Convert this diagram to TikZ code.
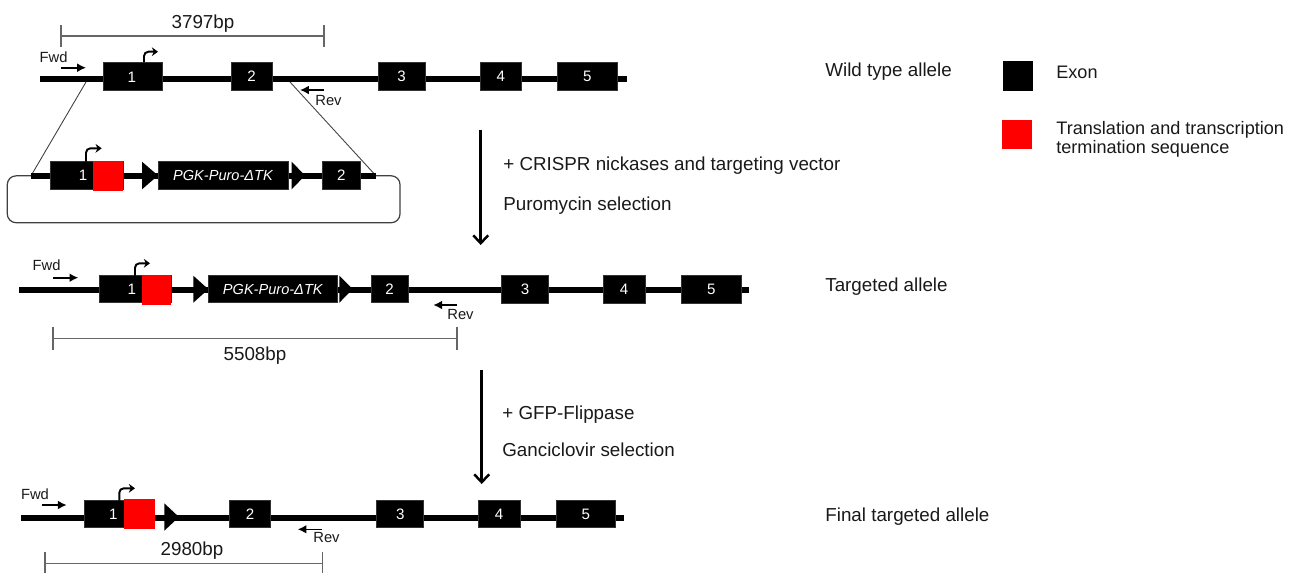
\documentclass[tikz,border=0pt]{standalone}
\usepackage{fontspec}
\setmainfont{Liberation Sans}
\usetikzlibrary{arrows.meta,fit}

\begin{document}
\begin{tikzpicture}[x=0.02cm,y=-0.02cm,
  big/.style={font=\fontsize{10.7}{12}\selectfont, text=black!90, inner sep=0},
  leg/.style={font=\fontsize{10.3}{10.3}\selectfont, text=black!90, inner sep=0, align=left},
  small/.style={font=\fontsize{8.4}{9}\selectfont, text=black!90, inner sep=0},
  exon/.style={fill=black, draw=black!80, line width=0.3pt, inner sep=0},
  exlabel/.style={text=white, font=\fontsize{8.6}{9}\selectfont, inner sep=0},
  cassette/.style={exlabel, font=\itshape\fontsize{8.3}{9}\selectfont},
  stopbox/.style={fill=red, draw=none, inner sep=0},
  backbone/.style={line width=3.4pt, black},
  primer/.style={line width=0.9pt, -{Latex[length=5pt,width=5pt]}},
  tss/.style={line width=1.1pt, rounded corners=2.5pt, -{Stealth[length=3.5pt,width=5pt]}},
  ruler/.style={draw=black!60, line width=0.6pt},
  process/.style={line width=1.4pt, -{Straight Barb[length=4.5pt,width=8.5pt]}},
  site/.style={fill=black, draw=none},
  frame/.style={draw=black!75, line width=0.7pt, rounded corners=5pt},
  homology/.style={draw=black!75, line width=0.5pt}
]
\useasboundingbox (0,0) rectangle (1297,583);

% ---------------- wild type allele ----------------
\coordinate (w0) at (40,78.7);
\coordinate (w1) at (627,78.7);
\draw[backbone] (w0) -- (w1);
\node[exon, fit={(103,62) (162,90)}] (we1) {};
\node[exon, fit={(231,62) (272,90)}] (we2) {};
\node[exon, fit={(378,62) (425,90)}] (we3) {};
\node[exon, fit={(480,62) (521.7,90)}] (we4) {};
\node[exon, fit={(557,62) (617.7,90)}] (we5) {};
\node[exlabel] at (131.7,77) {1};
\node[exlabel] at (we2.center) {2};
\node[exlabel] at (we3.center) {3};
\node[exlabel] at (we4.center) {4};
\node[exlabel] at (we5.center) {5};
\coordinate (wt) at (144,62);
\coordinate (wtt) at (158,51.7);
\draw[tss] (wt) |- (wtt);
\node[small, anchor=base west] (wfwd) at (39.3,62.3) {Fwd};
\coordinate (wf0) at (61,67.7);
\coordinate (wf1) at (86,67.7);
\draw[primer] (wf0) -- (wf1);
\coordinate (wr0) at (324,90);
\coordinate (wr1) at (300,90);
\draw[primer] (wr0) -- (wr1);
\node[small, anchor=base west] (wrev) at (315,105) {Rev};
% amplicon
\coordinate (wa0) at (61,36);
\coordinate (wa1) at (324,36);
\draw[ruler] (wa0) -- (wa1);
\draw[ruler] (61,25) -- (61,47) (324,25) -- (324,47);
\node[big, anchor=base] (wlen) at (203,28.3) {3797bp};
\node[big, anchor=base west] (wname) at (825,76) {Wild type allele};

% ---------------- targeting vector ----------------
\coordinate (v0) at (31,175.8);
\coordinate (v1) at (376,175.8);
\draw[frame] (7.3,175.8) rectangle (400,222.7);
\draw[homology] (86,82) -- (v0);
\draw[homology] (290,82) -- (v1);
\draw[backbone] (v0) -- (v1);
\node[exon, fit={(50.7,161.7) (123,189.3)}] (ve1) {};
\node[stopbox, fit={(92.7,161) (123,190.7)}] (vstop) {};
\node[exlabel] at (83,175.5) {1};
\coordinate (vt) at (86,161.7);
\coordinate (vtt) at (101.7,148.3);
\draw[tss] (vt) |- (vtt);
\fill[site] (142,161.7) -- (158,175.5) -- (142,189.3) -- cycle;
\node[exon, fit={(158,161.7) (288,189.3)}] (vpgk) {};
\node[cassette] at (vpgk.center) {PGK-Puro-ΔTK};
\fill[site] (291.7,161.7) -- (305,175.5) -- (291.7,189.3) -- cycle;
\node[exon, fit={(322,161.7) (360.7,189.3)}] (ve2) {};
\node[exlabel] at (ve2.center) {2};

% ---------------- step 1 ----------------
\coordinate (s1a) at (480.7,130);
\coordinate (s1b) at (480.7,245);
\draw[process] (s1a) -- (s1b);
\node[big, anchor=base west] (s1t1) at (503,170) {+ CRISPR nickases and targeting vector};
\node[big, anchor=base west] (s1t2) at (503,210) {Puromycin selection};

% ---------------- targeted allele ----------------
\coordinate (t0) at (19.3,290);
\coordinate (t1) at (749.3,290);
\draw[backbone] (t0) -- (t1);
\node[exon, fit={(99,275.7) (171,302.7)}] (te1) {};
\node[stopbox, fit={(141.7,275) (171,305)}] (tstop) {};
\node[exlabel] at (131.7,289.5) {1};
\coordinate (tt) at (135,275.7);
\coordinate (ttt) at (150,263.3);
\draw[tss] (tt) |- (ttt);
\fill[site] (193.3,275.7) -- (208.3,289.2) -- (193.3,302.7) -- cycle;
\node[exon, fit={(208.3,275.7) (337.3,302.7)}] (tpgk) {};
\node[cassette] at (tpgk.center) {PGK-Puro-ΔTK};
\fill[site] (339.3,275.7) -- (352.7,289.2) -- (339.3,302.7) -- cycle;
\node[exon, fit={(371,275.7) (408.3,302.7)}] (te2) {};
\node[exon, fit={(501.7,275.7) (548.3,303.3)}] (te3) {};
\node[exon, fit={(603.3,275.7) (645,303.3)}] (te4) {};
\node[exon, fit={(681.7,275.7) (741,303.3)}] (te5) {};
\node[exlabel] at (te2.center) {2};
\node[exlabel] at (te3.center) {3};
\node[exlabel] at (te4.center) {4};
\node[exlabel] at (te5.center) {5};
\node[small, anchor=base west] (tfwd) at (32.3,270) {Fwd};
\coordinate (tf0) at (53.3,277.7);
\coordinate (tf1) at (78.3,277.7);
\draw[primer] (tf0) -- (tf1);
\coordinate (tr0) at (456.7,305);
\coordinate (tr1) at (433.3,305);
\draw[primer] (tr0) -- (tr1);
\node[small, anchor=base west] (trev) at (447,319.3) {Rev};
\coordinate (ta0) at (53,338.3);
\coordinate (ta1) at (457,338.3);
\draw[ruler] (ta0) -- (ta1);
\draw[ruler] (53,326.7) -- (53,350) (457,326.7) -- (457,350);
\node[big, anchor=base] (tlen) at (255,360) {5508bp};
\node[big, anchor=base west] (tname) at (825,291.7) {Targeted allele};

% ---------------- step 2 ----------------
\coordinate (s2a) at (481.7,370);
\coordinate (s2b) at (481.7,484);
\draw[process] (s2a) -- (s2b);
\node[big, anchor=base west] (s2t1) at (502,419) {+ GFP-Flippase};
\node[big, anchor=base west] (s2t2) at (502,456.7) {Ganciclovir selection};

% ---------------- final targeted allele ----------------
\coordinate (f0) at (21,517.5);
\coordinate (f1) at (624.3,517.5);
\draw[backbone] (f0) -- (f1);
\node[exon, fit={(84.3,500.7) (150,527.7)}] (fe1) {};
\node[stopbox, fit={(124,499) (155,528.7)}] (fstop) {};
\node[exlabel] at (113.3,514.2) {1};
\coordinate (ft) at (119.3,500.7);
\coordinate (ftt) at (135,488.3);
\draw[tss] (ft) |- (ftt);
\fill[site] (164.3,503.3) -- (179,517) -- (164.3,530.7) -- cycle;
\node[exon, fit={(229.3,500.7) (270.7,527.7)}] (fe2) {};
\node[exon, fit={(376.7,500.7) (423.7,527.7)}] (fe3) {};
\node[exon, fit={(478.3,500.7) (520,527.7)}] (fe4) {};
\node[exon, fit={(556,500.7) (615.7,527.7)}] (fe5) {};
\node[exlabel] at (fe2.center) {2};
\node[exlabel] at (fe3.center) {3};
\node[exlabel] at (fe4.center) {4};
\node[exlabel] at (fe5.center) {5};
\node[small, anchor=base west] (ffwd) at (20.7,499.3) {Fwd};
\coordinate (ff0) at (42,505);
\coordinate (ff1) at (66.7,505);
\draw[primer] (ff0) -- (ff1);
\coordinate (fr0) at (321.7,529.3);
\coordinate (fr1) at (297.7,529.3);
\draw[primer] (fr0) -- (fr1);
\node[small, anchor=base west] (frev) at (313,542.7) {Rev};
\coordinate (fa0) at (45,563.3);
\coordinate (fa1) at (322.3,563.3);
\draw[ruler] (fa0) -- (fa1);
\draw[ruler] (45,551.7) -- (45,573.3) (322.3,551.7) -- (322.3,573.3);
\node[big, anchor=base] (flen) at (192,555) {2980bp};
\node[big, anchor=base west] (fname) at (825,521.7) {Final targeted allele};

% ---------------- legend ----------------
\node[fill=black, inner sep=0, fit={(1002.7,60.7) (1032.7,90.7)}] (legexon) {};
\node[leg, anchor=base west] (legexont) at (1056,78.3) {Exon};
\node[stopbox, fit={(1001.7,120) (1031.7,149.3)}] (legstop) {};
\node[leg, anchor=base west] (legstopt1) at (1056,134) {Translation and transcription};
\node[leg, anchor=base west] (legstopt2) at (1056,153) {termination sequence};
\end{tikzpicture}
\end{document}
